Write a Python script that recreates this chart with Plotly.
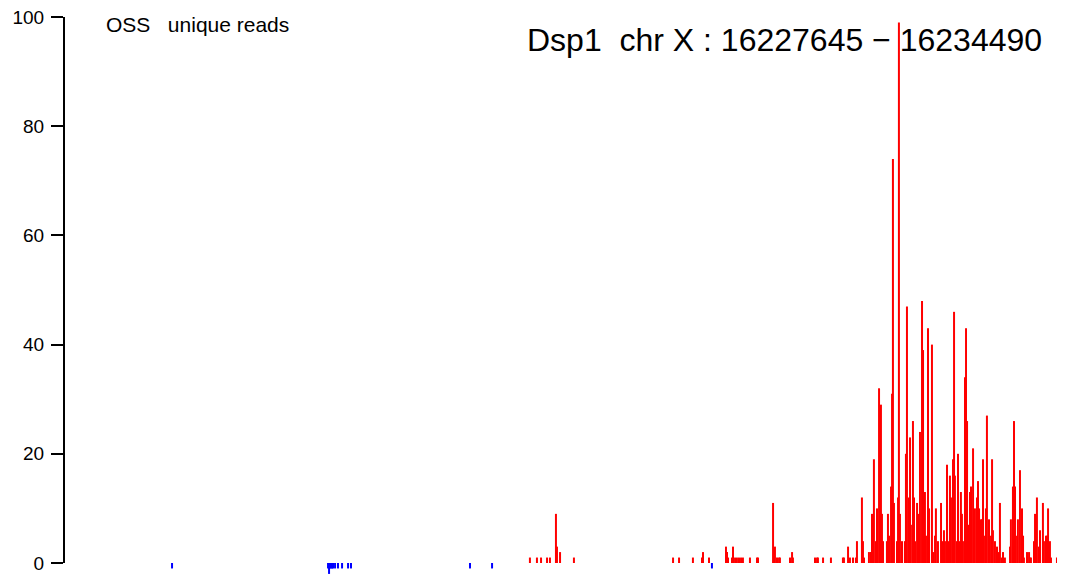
import plotly.graph_objects as go

# Region
region_start = 16227645
region_end = 16234490
gene = "Dsp1"
chrom = "X"
label_left = "OSS   unique reads"

# Plus-strand reads (red): offset from region start (bp), count
plus_offsets = [3187, 3235, 3263, 3304, 3324, 3365, 3372, 3393, 3488,
                4166, 4207, 4302, 4364, 4371, 4412, 4528, 4535, 4542, 4569, 4576,
                4590, 4603, 4617, 4631, 4644, 4692, 4740, 4747, 4850, 4863, 4877,
                4891, 4897, 4966, 4980, 4986, 5137, 5151, 5157, 5192, 5246,
                5328, 5335, 5363, 5376, 5397, 5417, 5424, 5458, 5465, 5472,
                5506, 5520, 5527, 5540, 5554, 5561, 5575, 5588, 5595, 5602,
                5629, 5636, 5643, 5657, 5664, 5670, 5677, 5698, 5705, 5711,
                5718, 5732, 5752, 5759, 5766, 5780, 5787, 5793, 5807, 5814,
                5821, 5835, 5841, 5848, 5855, 5869, 5876, 5889, 5896, 5910,
                5917, 5937, 5944, 5958, 5964, 5978, 5999, 6006, 6019, 6026,
                6040, 6047, 6060, 6067, 6081, 6088, 6094, 6108, 6115, 6122,
                6135, 6142, 6149, 6163, 6170, 6177, 6190, 6197, 6204, 6218,
                6224, 6231, 6245, 6252, 6259, 6272, 6279, 6286, 6300, 6306,
                6313, 6327, 6341, 6348, 6354, 6368, 6382, 6395, 6402, 6416,
                6423, 6436, 6471, 6477, 6491, 6498, 6505, 6519, 6525, 6539,
                6553, 6560, 6566, 6587, 6601, 6607, 6614, 6635, 6642, 6655,
                6669, 6676, 6696, 6703, 6717, 6724, 6731, 6744, 6751, 6792, 6833]
plus_counts = [1, 1, 1, 1, 1, 9, 3, 2, 1,
               1, 1, 1, 1, 2, 1, 3, 2, 1, 1, 3,
               1, 1, 1, 1, 1, 1, 1, 1, 11, 3, 1,
               1, 1, 1, 2, 1, 1, 1, 1, 1, 1,
               1, 1, 3, 1, 1, 1, 4, 12, 4, 1,
               2, 2, 9, 19, 4, 10, 32, 29, 9, 4,
               4, 9, 5, 14, 31, 74, 11, 4, 12, 99,
               9, 4, 4, 20, 47, 12, 23, 7, 26, 12,
               4, 11, 4, 9, 24, 48, 39, 13, 5, 43,
               10, 40, 2, 5, 10, 4, 11, 4, 6, 4,
               18, 4, 16, 12, 19, 46, 16, 4, 20, 4,
               13, 9, 4, 34, 43, 26, 7, 13, 14, 21,
               8, 10, 12, 15, 10, 8, 8, 19, 5, 10,
               27, 8, 5, 19, 6, 4, 3, 2, 11, 1,
               2, 1, 3, 8, 14, 26, 14, 5, 8, 17,
               10, 5, 1, 2, 2, 1, 1, 4, 9, 12,
               3, 6, 11, 4, 5, 5, 10, 4, 1, 1, 1]

# Minus-strand reads (blue): offset from region start (bp), count (negative)
minus_offsets = [739, 1806, 1813, 1819, 1826, 1833, 1840, 1854, 1874, 1902,
                 1943, 1963, 2777, 2928, 4432]
minus_counts = [-1, -1, -2, -1, -1, -1, -1, -1, -1, -1,
                -1, -1, -1, -1, -1]

y_ticks = [0, 20, 40, 60, 80, 100]


def spikes(offsets, counts):
    xs, ys = [], []
    for o, c in zip(offsets, counts):
        p = region_start + o
        xs += [p, p, None]
        ys += [0, c, None]
    return xs, ys


px_, py_ = spikes(plus_offsets, plus_counts)
mx_, my_ = spikes(minus_offsets, minus_counts)

fig = go.Figure()
fig.add_trace(go.Scatter(x=px_, y=py_, mode="lines",
                         line=dict(color="#ff0000", width=2),
                         hoverinfo="skip", showlegend=False))
fig.add_trace(go.Scatter(x=mx_, y=my_, mode="lines",
                         line=dict(color="#0000ff", width=2),
                         hoverinfo="skip", showlegend=False))

font_family = "Liberation Sans, Arial, Helvetica, sans-serif"

# page body has an 8px margin; figure is sized to fit the remaining window
W, H = 1057, 574
OFF = 8

fig.update_layout(
    width=W, height=H,
    margin=dict(l=56, r=0, t=0, b=0),
    paper_bgcolor="white", plot_bgcolor="white",
    showlegend=False,
    xaxis=dict(visible=False, range=[region_start, region_start + 6847],
               showgrid=False, zeroline=False),
    yaxis=dict(range=[-3.48, 101.65], tickvals=y_ticks,
               ticktext=[str(v) for v in y_ticks],
               ticks="outside", ticklen=12, tickwidth=2, tickcolor="black",
               showgrid=False, zeroline=False, showline=False,
               automargin=False, ticklabelstandoff=3,
               ticklabeloverflow="allow",
               tickfont=dict(family=font_family, size=19, color="black")),
    shapes=[dict(type="line", xref="paper", yref="y", x0=0, x1=0,
                 y0=y_ticks[0], y1=y_ticks[-1],
                 line=dict(color="black", width=2))],
    annotations=[
        dict(text=label_left, xref="paper", yref="paper",
             x=(104 - 64) / 1001, y=1 - (25 - OFF) / H,
             xanchor="left", yanchor="middle", showarrow=False,
             font=dict(family=font_family, size=21, color="black")),
        dict(text=f"{gene}  chr {chrom} : {region_start} \u2212 {region_end}",
             xref="paper", yref="paper",
             x=(525 - 64) / 1001, y=1 - (40 - OFF) / H,
             xanchor="left", yanchor="middle", showarrow=False,
             font=dict(family=font_family, size=32, color="black")),
    ],
)

fig.write_html("out.html")
